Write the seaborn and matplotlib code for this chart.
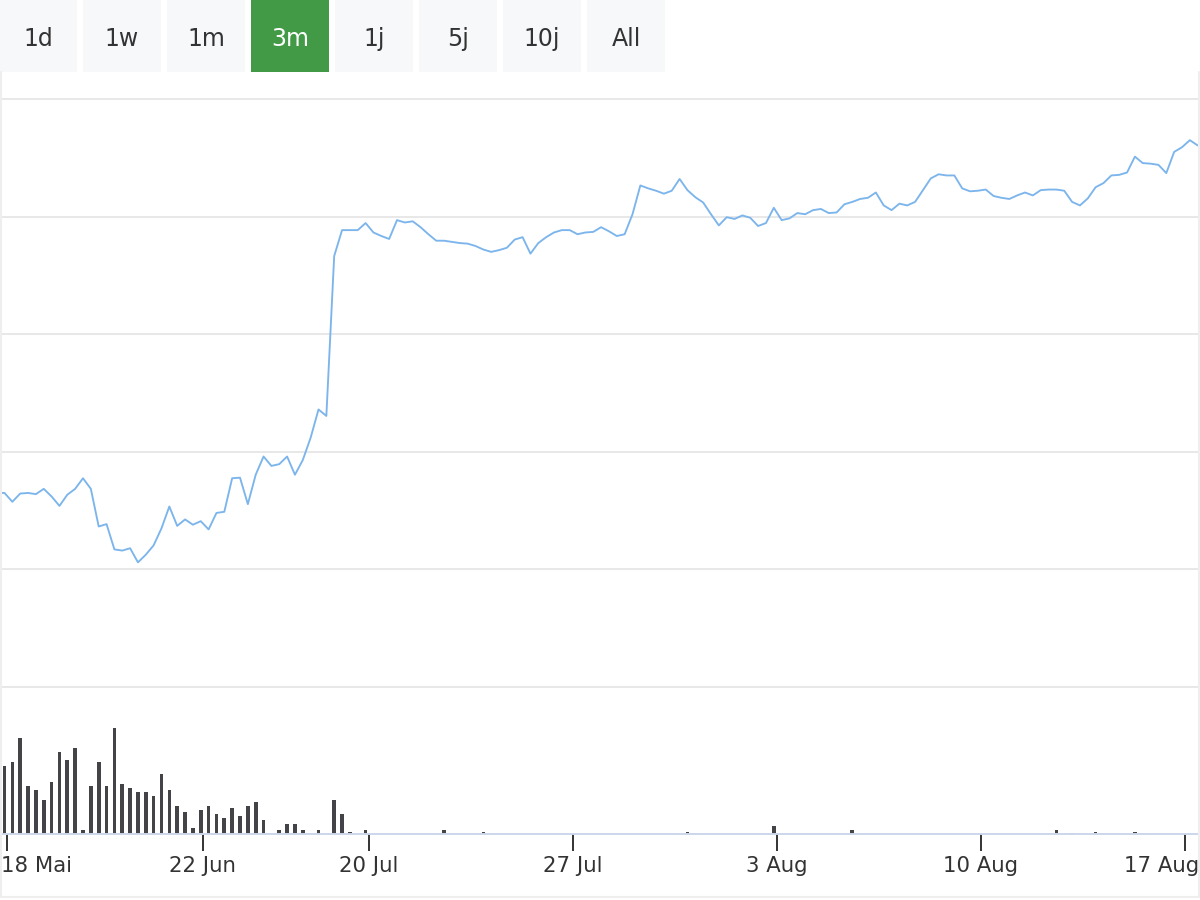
import matplotlib
matplotlib.use('Agg')
import matplotlib.pyplot as plt
from matplotlib.patches import Rectangle
import seaborn as sns
import numpy as np
import pandas as pd

# range buttons
buttons = ['1d', '1w', '1m', '3m', '1j', '5j', '10j', 'All']
active_button = '3m'

# x axis labels (ordinal axis: position = data index)
tick_labels = ['18 Mai', '22 Jun', '20 Jul', '27 Jul', '3 Aug', '10 Aug', '17 Aug']
tick_pos = [0.28, 25.25, 46.4, 72.4, 98.4, 124.35, 150.4]

# closing price (index -1 .. 152)
price = [
    13.30,
    13.30, 13.15, 13.29, 13.30, 13.28, 13.37, 13.24, 13.08, 13.27, 13.37,
    13.55, 13.37, 12.73, 12.77, 12.34, 12.32, 12.36, 12.12, 12.25, 12.41,
    12.70, 13.07, 12.74, 12.85, 12.76, 12.82, 12.68, 12.96, 12.98, 13.55,
    13.56, 13.11, 13.61, 13.92, 13.76, 13.79, 13.92, 13.61, 13.86, 14.24,
    14.72, 14.61, 17.33, 17.77, 17.77, 17.77, 17.89, 17.73, 17.67, 17.62,
    17.94, 17.90, 17.92, 17.82, 17.70, 17.59, 17.59, 17.57, 17.55, 17.54,
    17.50, 17.44, 17.40, 17.43, 17.47, 17.61, 17.65, 17.37, 17.55, 17.65,
    17.73, 17.77, 17.77, 17.70, 17.73, 17.74, 17.82, 17.75, 17.67, 17.70,
    18.04, 18.53, 18.48, 18.44, 18.39, 18.44, 18.64, 18.45, 18.33, 18.24,
    18.04, 17.85, 17.99, 17.96, 18.02, 17.98, 17.84, 17.89, 18.15, 17.94,
    17.97, 18.06, 18.04, 18.11, 18.13, 18.06, 18.07, 18.21, 18.25, 18.30,
    18.32, 18.41, 18.19, 18.11, 18.22, 18.19, 18.25, 18.45, 18.65, 18.72,
    18.70, 18.70, 18.48, 18.43, 18.44, 18.46, 18.35, 18.32, 18.30, 18.36,
    18.41, 18.36, 18.45, 18.46, 18.46, 18.44, 18.25, 18.19, 18.31, 18.50,
    18.57, 18.70, 18.71, 18.75, 19.02, 18.91, 18.90, 18.88, 18.74, 19.10,
    19.18, 19.30, 19.21,
]

# volume (thousands), same index
volume = [
    0,
    68, 72, 96, 48, 44, 34, 52, 82, 74, 86,
    4, 48, 72, 48, 106, 50, 46, 42, 42, 38,
    60, 44, 28, 22, 6, 24, 28, 20, 16, 26,
    18, 28, 32, 14, 0, 4, 10, 10, 4, 0,
    4, 0, 34, 20, 2, 0, 4, 0, 0, 0,
    0, 0, 0, 0, 0, 0, 4, 0, 0, 0,
    0, 2, 0, 0, 0, 0, 0, 0, 0, 0,
    0, 0, 0, 0, 0, 0, 0, 0, 0, 0,
    0, 0, 0, 0, 0, 0, 0, 2, 0, 0,
    0, 0, 0, 0, 0, 0, 0, 0, 8, 0,
    0, 0, 0, 0, 0, 0, 0, 0, 4, 0,
    0, 0, 0, 0, 0, 0, 0, 0, 0, 0,
    0, 0, 0, 0, 0, 0, 0, 0, 0, 0,
    0, 0, 0, 0, 4, 0, 1.5, 0, 0, 2,
    0, 0, 0, 0, 2, 0, 0, 0, 0, 0,
    0, 0, 0,
]

idx = np.arange(-1, len(price) - 1)
df = pd.DataFrame({'i': idx, 'price': price, 'volume': volume})

sns.set_style('white')
plt.rcParams['font.family'] = ['DejaVu Sans']

W, H = 1200, 900
fig = plt.figure(figsize=(12, 9), dpi=100)

def rect(top, bottom):
    return [0, (H - bottom) / H, 1, (bottom - top) / H]

xlim = (-4.5 / 7.85, 1195.5 / 7.85)

# price pane
ax = fig.add_axes(rect(90, 700))
sns.lineplot(data=df, x='i', y='price', ax=ax, color='#7cb5ec', linewidth=1.35)
ax.set_xlim(*xlim)
ax.set_ylim(10 - 13 / 58.8, 10 + 597 / 58.8)
ax.set_yticks(np.arange(10, 21, 2))
ax.yaxis.grid(True, color='#e6e6e6', linewidth=1.3)
ax.tick_params(left=False, bottom=False, labelleft=False, labelbottom=False)
ax.set_xlabel('')
ax.set_ylabel('')
for s in ax.spines.values():
    s.set_visible(False)
ax.patch.set_visible(False)

# volume pane
axv = fig.add_axes(rect(687, 834.3))
sns.barplot(data=df, x='i', y='volume', ax=axv, native_scale=True, width=0.47,
            color='#434348', errorbar=None, saturation=1, linewidth=0, edgecolor='none')
axv.set_xlim(*xlim)
axv.set_ylim(0, 147.3)
axv.set_xlabel('')
axv.set_ylabel('')
axv.set_yticks([])
for name, s in axv.spines.items():
    s.set_visible(name == 'bottom')
axv.spines['bottom'].set_color('#ccd6eb')
axv.spines['bottom'].set_linewidth(1.4)
axv.set_xticks(tick_pos)
axv.set_xticklabels([])
axv.tick_params(axis='x', bottom=True, length=12.5, width=1.4, color='#333333',
                direction='out')
axv.patch.set_visible(False)

labels = []
for pos, lab in zip(tick_pos, tick_labels):
    t = axv.annotate(lab, xy=(pos, 0), xycoords=('data', 'axes fraction'),
                     xytext=(0, -26.8), textcoords='offset points',
                     ha='center', va='baseline', fontsize=15.3, color='#333333')
    labels.append(t)

# buttons + frame
bg = fig.add_axes([0, 0, 1, 1])
bg.set_xlim(0, W)
bg.set_ylim(H, 0)
bg.axis('off')
bg.set_zorder(5)
bg.patch.set_visible(False)
frame = '#eeeeee'
bg.plot([0.8, 0.8, W - 0.8, W - 0.8], [72, 897, 897, 72], color=frame, linewidth=1.5)
for k, b in enumerate(buttons):
    x0 = 84 * k - 1
    on = b == active_button
    bg.add_patch(Rectangle((x0, 0), 78, 71.5, facecolor='#439a46' if on else '#f7f8fa',
                           edgecolor='none'))
    bg.text(x0 + 39, 45.7, b, ha='center', va='baseline', fontsize=17,
            color='white' if on else '#333333')

# keep edge labels inside the chart
fig.canvas.draw()
r = fig.canvas.get_renderer()
for t in labels:
    bb = t.get_window_extent(r)
    shift = 0
    if bb.x0 < 0:
        shift = 1 - bb.x0
    elif bb.x1 > W:
        shift = W - 1 - bb.x1
    if shift:
        t.xyann = (shift * 72 / 100, -26.8)

fig.savefig('out.png', dpi=100)
